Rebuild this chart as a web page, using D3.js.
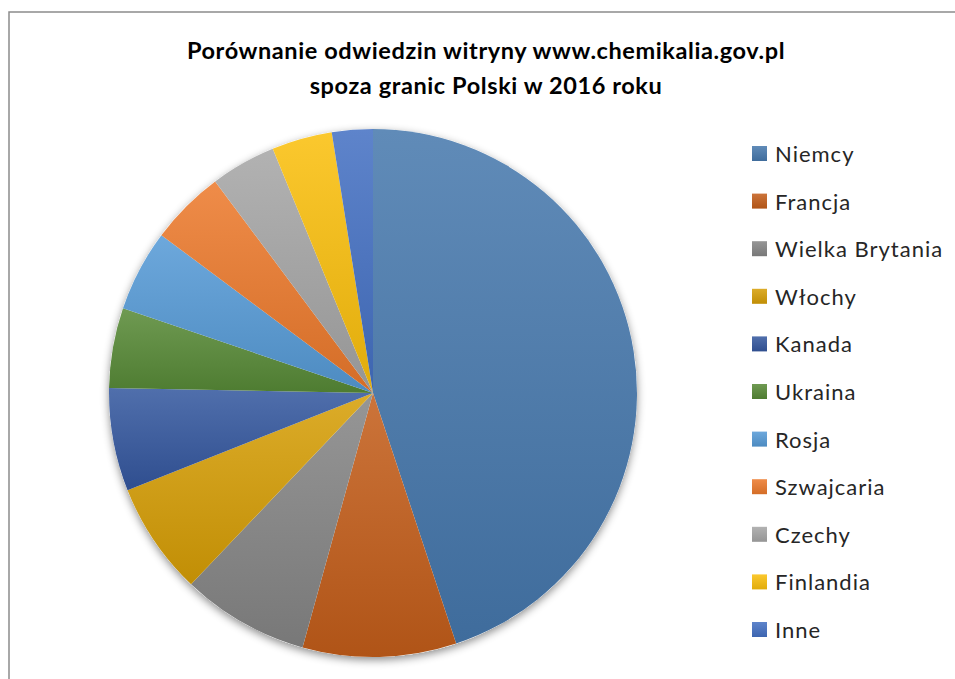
<!DOCTYPE html>
<meta charset="utf-8">
<head>
  <title>Chemikalia 2016</title>
</head>

<style>
body {
  margin: 0;
  background: #fff;
}
text {
  font-family: Lato, "Open Sans", sans-serif;
}
</style>

<body>
  <div id="content">
    <svg width="955" height="679"></svg>
  </div>

  <script src="https://cdnjs.cloudflare.com/ajax/libs/d3/7.8.5/d3.min.js"></script>

  <script>
var countries = ['Niemcy', 'Francja', 'Wielka Brytania', 'Włochy', 'Kanada', 'Ukraina',
  'Rosja', 'Szwajcaria', 'Czechy', 'Finlandia', 'Inne'];
var shares = [44.9, 9.4, 7.8, 6.9, 6.3, 4.9, 5.0, 4.6, 4.0, 3.7, 2.5];
var colors = ['#4678ad', '#c45d1a', '#858585', '#d69e06', '#34579f', '#578a36',
  '#559ad6', '#ec792b', '#a6a6a6', '#fabf0c', '#4470c3'];
var titleLines = ['Porównanie odwiedzin witryny www.chemikalia.gov.pl',
  'spoza granic Polski w 2016 roku'];

var svg = d3.select('#content svg');

var cx = 373, cy = 393, radius = 264;

// frame (only top and left edges are visible)
svg.append('path')
  .attr('d', 'M9,679 V12 H955')
  .attr('fill', 'none')
  .attr('stroke', '#8c8c8c')
  .attr('stroke-width', 1.5);

// title
svg.selectAll('.title')
  .data(titleLines)
  .enter().append('text')
  .attr('class', 'title')
  .attr('x', 486)
  .attr('y', function(d, i) { return 59 + i * 35; })
  .attr('text-anchor', 'middle')
  .attr('font-size', 23.5)
  .attr('letter-spacing', 0.6)
  .attr('font-weight', 'bold')
  .attr('fill', '#000')
  .text(function(d) { return d; });

var defs = svg.append('defs');

// soft shadow under the pie
var shadow = defs.append('filter')
  .attr('id', 'shadow')
  .attr('x', '-20%').attr('y', '-20%')
  .attr('width', '140%').attr('height', '140%');
shadow.append('feDropShadow')
  .attr('dx', 0).attr('dy', 3)
  .attr('stdDeviation', 4)
  .attr('flood-color', '#000')
  .attr('flood-opacity', 0.45);

// vertical gradient over each slice: lighter top, darker bottom
colors.forEach(function(c, i) {
  var g = defs.append('linearGradient')
    .attr('id', 'grad' + i)
    .attr('x1', 0).attr('y1', 0)
    .attr('x2', 0).attr('y2', 1);
  g.append('stop').attr('offset', '0%').attr('stop-color', d3.interpolateRgb(c, '#fff')(0.14));
  g.append('stop').attr('offset', '100%').attr('stop-color', d3.interpolateRgb(c, '#000')(0.1));
});

var pie = d3.pie().sort(null).value(function(d) { return d; });
var arc = d3.arc().innerRadius(0).outerRadius(radius);

var g = svg.append('g')
  .attr('transform', 'translate(' + cx + ',' + cy + ')');

g.append('circle')
  .attr('r', radius)
  .attr('fill', '#fff')
  .attr('filter', 'url(#shadow)');

g.selectAll('path.slice')
  .data(pie(shares))
  .enter().append('path')
  .attr('class', 'slice')
  .attr('d', arc)
  .attr('fill', function(d, i) { return 'url(#grad' + i + ')'; });

// legend
var legend = svg.append('g')
  .attr('transform', 'translate(752,153)');

var rows = legend.selectAll('g')
  .data(countries)
  .enter().append('g')
  .attr('transform', function(d, i) { return 'translate(0,' + (i * 47.6) + ')'; });

rows.append('rect')
  .attr('x', 0).attr('y', -7)
  .attr('width', 15).attr('height', 15)
  .attr('fill', function(d, i) { return 'url(#grad' + i + ')'; });

rows.append('text')
  .attr('x', 23)
  .attr('y', 9)
  .attr('font-size', 22)
  .attr('letter-spacing', 1)
  .attr('fill', '#262626')
  .text(function(d) { return d; });
  </script>
</body>
</html>
